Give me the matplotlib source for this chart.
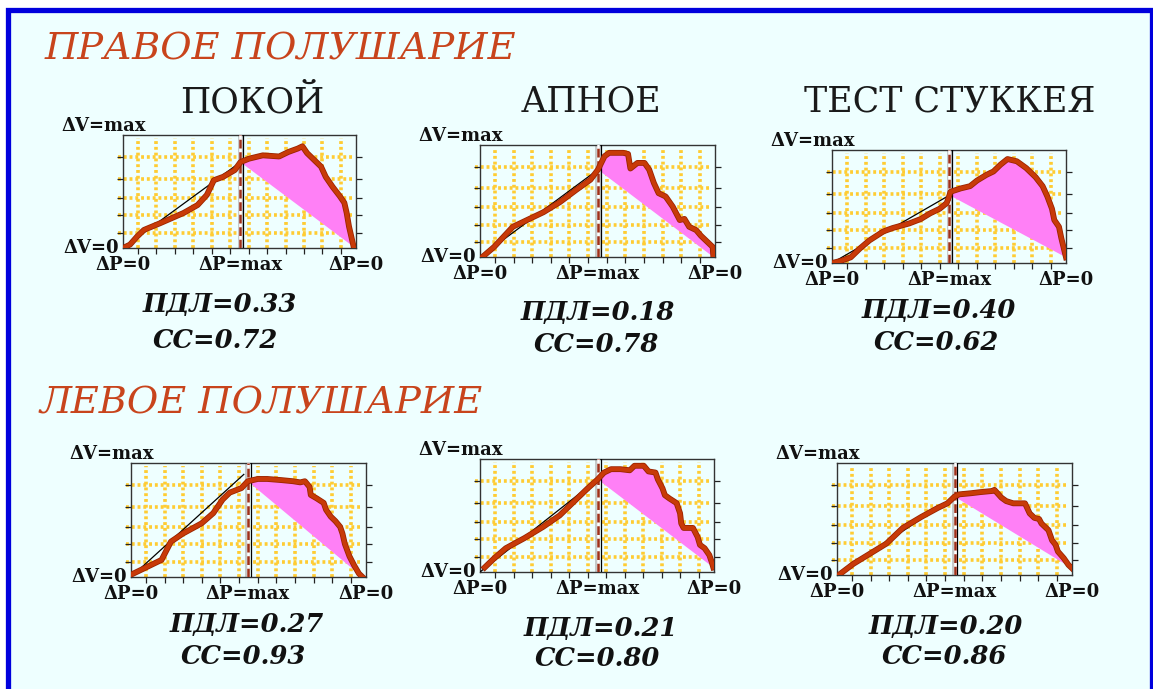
import numpy as np
import matplotlib
matplotlib.use("Agg")
import matplotlib.pyplot as plt
from matplotlib.patches import Rectangle
import matplotlib.patheffects as pe

W, H = 1153, 689

# ΔP / ΔV loops, % of maximum; dashed line = ΔP max
hemispheres = ["ПРАВОЕ ПОЛУШАРИЕ", "ЛЕВОЕ ПОЛУШАРИЕ"]
tests = ["ПОКОЙ", "АПНОЕ", "ТЕСТ СТУККЕЯ"]

pdl_values = [0.33, 0.18, 0.40, 0.27, 0.21, 0.20]
cc_values = [0.72, 0.78, 0.62, 0.93, 0.80, 0.86]

# right hemisphere
r_rest_dp = [0, 3, 6, 9, 16, 26, 32, 36, 39, 43, 48, 50.4, 54, 60, 67, 71, 75, 77, 79, 82, 85, 87, 90, 93, 95, 96, 97, 98, 99]
r_rest_dv = [0, 3, 10, 16, 22, 31, 38, 47, 60, 63, 69, 76, 79, 82, 81, 85, 88, 90, 84, 78, 72, 63, 54, 46, 40, 31, 19, 10, 1]
r_apnea_dp = [1, 6, 10, 14, 20, 27, 34, 41, 47, 50.2, 53, 55, 59, 61, 63, 64, 67, 70, 72, 74, 76, 79, 81, 82, 84, 85, 87, 89, 92, 94, 97, 99, 99.3]
r_apnea_dv = [0, 9, 18, 27, 33, 40, 49, 60, 69, 78, 90, 93, 93, 93, 92, 79, 84, 84, 78, 66, 57, 54, 48, 45, 37, 33, 34, 27, 24, 19, 13, 9, 0]
r_stookey_dp = [0, 4, 8, 12, 16, 22, 26, 33, 38, 42, 46, 49, 50.2, 50.6, 55, 59, 62, 66, 69, 72, 75, 79, 83, 87, 90, 92, 94, 95, 97, 98, 100]
r_stookey_dv = [0, 2, 5, 13, 20, 28, 31, 35, 39, 44, 48, 53, 60, 63, 66, 68, 73, 78, 81, 87, 92, 90, 84, 76, 68, 59, 48, 38, 32, 22, 5]

# left hemisphere
l_rest_dp = [0, 4, 8, 13, 17, 22, 30, 35, 39, 42, 47, 49.7, 54, 58, 64, 69, 72, 74, 76, 76.5, 79, 82, 83, 85, 87, 89, 90, 91, 93, 95, 97, 98.5]
l_rest_dv = [2, 6, 10, 15, 31, 38, 47, 56, 68, 74, 78, 84, 86, 86, 85, 84, 83, 84, 79, 72, 69, 65, 59, 53, 49, 44, 38, 29, 18, 10, 3, 0]
l_apnea_dp = [2, 6, 11, 19, 27, 34, 41, 46, 50.3, 53, 56, 60, 64, 66, 70, 72, 75, 76, 78, 79, 81, 84, 85.5, 86, 87, 91, 93, 94, 96, 98, 99, 99.7]
l_apnea_dv = [4, 12, 21, 30, 40, 50, 64, 74, 82, 88, 91, 91, 90, 94, 94, 89, 88, 82, 74, 68, 65, 61, 52, 43, 39, 39, 31, 24, 21, 15, 9, 4]
l_stookey_dp = [0.7, 7, 14, 21, 28, 36, 43, 47, 50, 52, 57, 61, 66, 67, 70, 72, 75, 80, 82, 84, 86, 87, 90, 91.5, 93, 94, 96.5, 98.5, 100]
l_stookey_dv = [0, 10, 19, 28, 42, 52, 60, 64, 70, 72, 73, 74, 75, 76, 69, 66, 64, 64, 55, 51, 50, 46, 40, 31, 27, 21, 15, 9, 6]

curves = [(r_rest_dp, r_rest_dv), (r_apnea_dp, r_apnea_dv), (r_stookey_dp, r_stookey_dv),
          (l_rest_dp, l_rest_dv), (l_apnea_dp, l_apnea_dv), (l_stookey_dp, l_stookey_dv)]
peak_idx = [11, 9, 12, 11, 8, 8]
# end of the thin reference line (left-rest one overshoots the loop)
ref_end = [None, None, None, (48, 90), None, None]

# panel boxes in pixels: left, right, top, bottom
boxes = [(123, 356, 135, 248), (480, 715, 145, 257), (832, 1066, 150, 263),
         (131, 366, 463, 577), (480, 714, 459, 572), (837, 1072, 463, 575)]
idx_pos = [(220, 305, 215, 340), (598, 313, 596, 345), (939, 311, 936, 343),
           (247, 625, 243, 657), (601, 628, 597, 659), (946, 626, 944, 657)]

BG = '#EEFFFF'
CURVE = '#C83A08'
PINK = '#FF80F6'
GRID = '#FFCC33'

fig = plt.figure(figsize=(W / 100, H / 100), dpi=100)
fig.patch.set_facecolor('white')

def fx(px):
    return px / W

def fy(py):
    return 1 - py / H

# blue frame
fig.add_artist(Rectangle((fx(7.5), fy(700)), fx(1152 - 7.5), (700 - 10.5) / H,
                         transform=fig.transFigure, facecolor=BG,
                         edgecolor='#0000DD', linewidth=3.8, zorder=0))

fig.text(fx(45), fy(49), hemispheres[0], fontsize=27.5, style='italic',
         family='DejaVu Serif', color='#C8441C', ha='left', va='center')
fig.text(fx(40), fy(403), hemispheres[1], fontsize=27.5, style='italic',
         family='DejaVu Serif', color='#C8441C', ha='left', va='center')
for name, xc in zip(tests, [252, 591, 950]):
    fig.text(fx(xc), fy(102), name, fontsize=25, family='DejaVu Serif',
             color='#1a1a1a', ha='center', va='center')

xgrid = 6.4 + 7.92 * np.arange(12)
ygrid = [13.4, 28.9, 44.2, 61.5, 80.8]
lab = dict(family='DejaVu Serif', fontweight='bold', fontsize=13, color='#111111')
idx_font = dict(family='DejaVu Serif', fontweight='bold', style='italic',
                fontsize=18.5, color='#111111', ha='center', va='center')

for i, (box, (dp, dv)) in enumerate(zip(boxes, curves)):
    l, r, t, b = box
    ax = fig.add_axes([fx(l), fy(b), fx(r - l), (b - t) / H])
    ax.set_facecolor('none')
    ax.set_xlim(0, 100)
    ax.set_ylim(0, 100)
    pw, ph = r - l, b - t

    for xv in xgrid:
        ax.plot([xv, xv], [0, 97], color=GRID, lw=2.6, ls=(0, (0.8, 0.8)), zorder=1)
    for yv in ygrid:
        ax.plot([-2, 98.5], [yv, yv], color=GRID, lw=2.6, ls=(0, (0.8, 0.8)),
                zorder=1, clip_on=False)

    dp = np.array(dp, float)
    dv = np.array(dv, float)
    k = peak_idx[i]
    xm, ym = dp[k], dv[k]

    # area beyond the chord from ΔP=max to the end of the loop
    ax.fill(dp[k:], dv[k:], color=PINK, lw=0, zorder=2)

    end = ref_end[i] if ref_end[i] else (xm, ym)
    ax.plot([0, end[0]], [0, end[1]], color='black', lw=0.9, zorder=3)

    # ΔP=max marker
    ax.axvspan(xm - 1.1, xm + 1.1, color='#BDBDBD', alpha=0.8, lw=0, zorder=2.5)
    ax.axvline(xm + 1.2, color='black', lw=0.9, zorder=2.6)
    ax.axvline(xm, color='white', lw=1.8, zorder=2.7)
    ax.axvline(xm, color='#A0301A', lw=1.8, ls=(0, (3.5, 1.5)), zorder=2.8)

    ax.plot(dp, dv, color=CURVE, lw=3.0, zorder=4, solid_joinstyle='round',
            path_effects=[pe.Stroke(linewidth=4.2, foreground='#9A2400'), pe.Normal()])

    ax.set_xticks(xgrid)
    ax.set_yticks(ygrid)
    ax.tick_params(axis='both', direction='out', length=4, width=0.9,
                   labelbottom=False, labelleft=False, color='#222222')
    ax.tick_params(axis='y', right=True)
    for s in ax.spines.values():
        s.set_linewidth(1.0)
        s.set_color('#333333')

    ax.text(-62 / pw, 1.0, 'ΔV=max', transform=ax.transAxes, ha='left', va='bottom', **lab)
    ax.text(-4 / pw, 0.0, 'ΔV=0', transform=ax.transAxes, ha='right', va='center', **lab)
    ax.text(0.0, -8 / ph, 'ΔP=0', transform=ax.transAxes, ha='center', va='top', **lab)
    ax.text(xm / 100, -8 / ph, 'ΔP=max', transform=ax.transAxes, ha='center', va='top', **lab)
    ax.text(1.0, -8 / ph, 'ΔP=0', transform=ax.transAxes, ha='center', va='top', **lab)

    x1, y1, x2, y2 = idx_pos[i]
    fig.text(fx(x1), fy(y1), f'ПДЛ={pdl_values[i]:.2f}', **idx_font)
    fig.text(fx(x2), fy(y2), f'СС={cc_values[i]:.2f}', **idx_font)

fig.savefig('out.png', dpi=100, facecolor=fig.get_facecolor())
